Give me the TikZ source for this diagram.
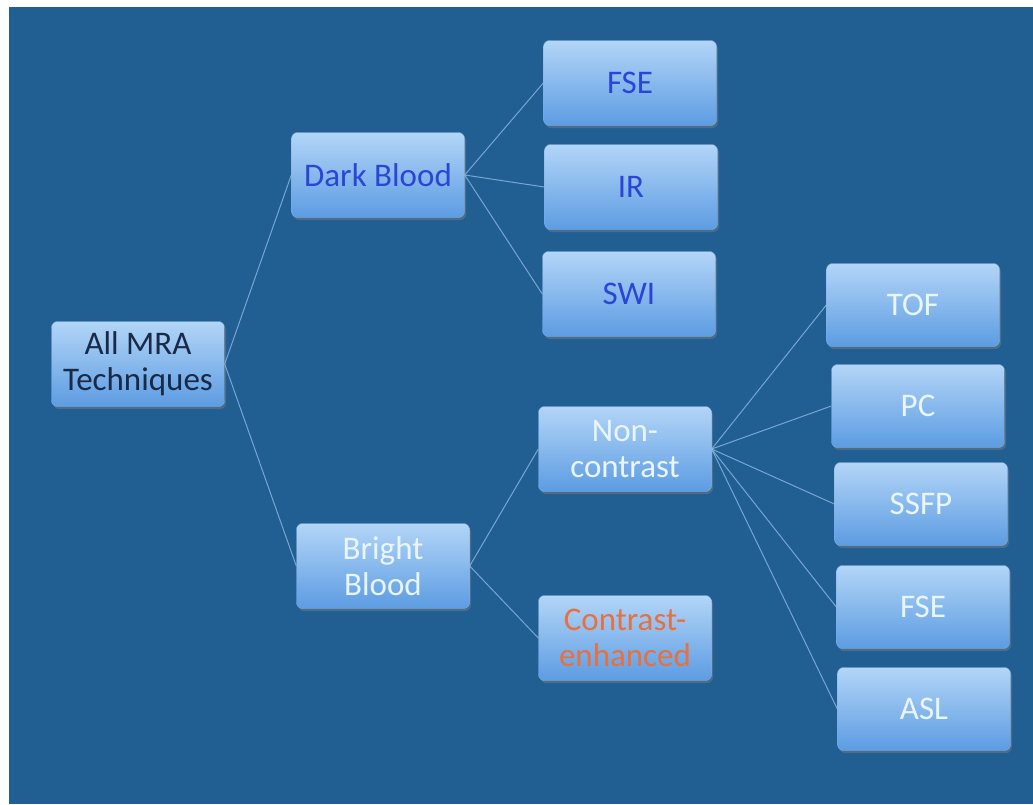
\documentclass[tikz,border=0pt]{standalone}
\usepackage{fontspec}
\setmainfont{Carlito}
\usetikzlibrary{shadows}
\definecolor{slideblue}{HTML}{215E91}
\definecolor{boxtop}{HTML}{B3D5F7}
\definecolor{boxbottom}{HTML}{5C9CE2}
\definecolor{darkink}{HTML}{2B45D6}
\definecolor{navyink}{HTML}{182A48}
\definecolor{paleink}{HTML}{EAF6FF}
\definecolor{orangeink}{HTML}{E8703E}
\definecolor{linkblue}{HTML}{8DB8E6}

\begin{document}
\begin{tikzpicture}[x=1pt,y=-1pt,
    tech/.style={rounded corners=6pt, top color=boxtop, bottom color=boxbottom,
      draw=boxbottom!80!white, line width=0.4pt,
      drop shadow={shadow xshift=1.5pt, shadow yshift=-2.5pt, opacity=0.45},
      minimum width=173pt, minimum height=85pt, inner sep=0pt, align=center,
      font=\fontsize{33}{36}\selectfont},
    link/.style={draw=linkblue, line width=1pt, opacity=0.8}]

  % slide background
  \useasboundingbox (0,0) rectangle (1033,804);
  \fill[white] (0,0) rectangle (1033,804);
  \fill[slideblue] (9,7) rectangle (1033,804);

  % root
  \node[tech, text=navyink] (mra) at (138,364) {All MRA\\Techniques};

  % dark blood branch
  \node[tech, text=darkink] (dark) at (378,175) {Dark Blood};
  \node[tech, text=darkink] (fseD) at (630,83) {FSE};
  \node[tech, text=darkink] (ir) at (631,187) {IR};
  \node[tech, text=darkink] (swi) at (629,294) {SWI};

  % bright blood branch
  \node[tech, text=paleink] (bright) at (383,566) {Bright\\Blood};
  \node[tech, text=paleink] (noncon) at (625,449) {Non-\\contrast};
  \node[tech, text=orangeink] (contr) at (625,638) {Contrast-\\enhanced};

  % non-contrast techniques
  \node[tech, text=paleink, minimum height=83pt] (tof) at (913,305) {TOF};
  \node[tech, text=paleink, minimum height=83pt] (pc) at (918,406) {PC};
  \node[tech, text=paleink, minimum height=83pt] (ssfp) at (921,504) {SSFP};
  \node[tech, text=paleink, minimum height=83pt] (fseN) at (923,607) {FSE};
  \node[tech, text=paleink, minimum height=83pt] (asl) at (924,709) {ASL};

  % connectors
  \draw[link] (mra.east) -- (dark.west);
  \draw[link] (mra.east) -- (bright.west);
  \draw[link] (dark.east) -- (fseD.west);
  \draw[link] (dark.east) -- (ir.west);
  \draw[link] (dark.east) -- (swi.west);
  \draw[link] (bright.east) -- (noncon.west);
  \draw[link] (bright.east) -- (contr.west);
  \draw[link] (noncon.east) -- (tof.west);
  \draw[link] (noncon.east) -- (pc.west);
  \draw[link] (noncon.east) -- (ssfp.west);
  \draw[link] (noncon.east) -- (fseN.west);
  \draw[link] (noncon.east) -- (asl.west);

\end{tikzpicture}
\end{document}
